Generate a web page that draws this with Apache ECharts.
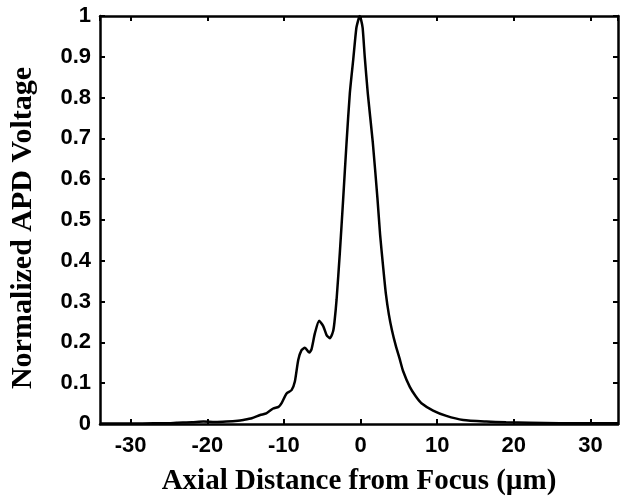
<!DOCTYPE html>
<html>
<head>
<meta charset="utf-8">
<script src="https://cdn.jsdelivr.net/npm/echarts@6/dist/echarts.min.js"></script>
<style>
html,body{margin:0;padding:0;background:#fff;}
#chart{width:620px;height:496px;}
</style>
</head>
<body>
<div id="chart"></div>
<script>
var xValues = [-34, -30, -27, -25, -24, -22, -20.5, -19, -17.5, -16, -15.3, -14.2, -13.1, -12.3, -11.4, -10.7, -10.3, -9.65, -9.0, -8.57, -8.13, -7.7, -7.26, -6.7, -6.4, -5.96, -5.4, -4.87, -4.43, -4.0, -3.57, -3.4, -3.13, -2.7, -2.27, -1.83, -1.4, -0.96, -0.55, -0.3, -0.12, 0.08, 0.28, 0.55, 0.95, 1.6, 2.2, 2.55, 2.95, 3.3, 3.7, 4.1, 4.6, 5.1, 5.55, 6.43, 7.2, 7.95, 9.47, 11.2, 13.4, 16.4, 19, 22, 26, 30, 33.6];
var yValues = [0.001, 0.001, 0.002, 0.002, 0.003, 0.004, 0.006, 0.005, 0.006, 0.008, 0.010, 0.014, 0.022, 0.026, 0.038, 0.042, 0.051, 0.075, 0.083, 0.104, 0.157, 0.181, 0.187, 0.175, 0.183, 0.222, 0.253, 0.240, 0.218, 0.210, 0.228, 0.250, 0.304, 0.420, 0.550, 0.688, 0.810, 0.892, 0.970, 0.990, 1.0, 0.990, 0.970, 0.900, 0.810, 0.690, 0.555, 0.465, 0.385, 0.320, 0.268, 0.230, 0.192, 0.160, 0.130, 0.091, 0.068, 0.051, 0.033, 0.020, 0.010, 0.006, 0.004, 0.003, 0.002, 0.002, 0.002];
var xLabel = 'Axial Distance from Focus (\u00b5m)';
var yLabel = 'Normalized APD Voltage';

var points = xValues.map(function (x, i) { return [x, yValues[i]]; });

var chart = echarts.init(document.getElementById('chart'), null, {renderer: 'canvas'});
var tickFont = {color: '#000', fontFamily: 'Liberation Sans', fontWeight: 'bold', fontSize: 22};
var lineStyle = {color: '#000', width: 2.5};
var option = {
  backgroundColor: '#fff',
  animation: false,
  grid: {left: 100, right: 2, top: 16, bottom: 72, containLabel: false, outerBoundsMode: 'none'},
  xAxis: [{
    type: 'value', min: -34, max: 33.6, splitNumber: 7,
    position: 'bottom',
    name: xLabel, nameLocation: 'middle', nameGap: 43,
    nameTextStyle: {color: '#000', fontFamily: 'Liberation Serif', fontWeight: 'bold', fontSize: 29},
    axisLine: {show: true, onZero: false, lineStyle: lineStyle},
    axisTick: {show: true, inside: true, length: 5, lineStyle: {color: '#000', width: 2}},
    axisLabel: Object.assign({margin: 11, showMinLabel: false, showMaxLabel: false}, tickFont),
    splitLine: {show: false}
  }, {
    type: 'value', min: -34, max: 33.6, splitNumber: 7,
    position: 'top',
    axisLine: {show: true, onZero: false, lineStyle: lineStyle},
    axisTick: {show: true, inside: true, length: 5, lineStyle: {color: '#000', width: 2}},
    axisLabel: {show: false},
    splitLine: {show: false}
  }],
  yAxis: [{
    type: 'value', min: 0, max: 1, interval: 0.1,
    position: 'left',
    name: yLabel, nameLocation: 'middle', nameGap: 62,
    nameTextStyle: {color: '#000', fontFamily: 'Liberation Serif', fontWeight: 'bold', fontSize: 30, padding: [0, 16, 0, 0]},
    axisLine: {show: true, onZero: false, lineStyle: lineStyle},
    axisTick: {show: true, inside: true, length: 5, lineStyle: {color: '#000', width: 2}},
    axisLabel: Object.assign({margin: 9, formatter: function (v) { return String(+v.toFixed(1)); }}, tickFont),
    splitLine: {show: false}
  }, {
    type: 'value', min: 0, max: 1, interval: 0.1,
    position: 'right',
    axisLine: {show: true, onZero: false, lineStyle: lineStyle},
    axisTick: {show: true, inside: true, length: 5, lineStyle: {color: '#000', width: 2}},
    axisLabel: {show: false},
    splitLine: {show: false}
  }],
  series: [{
    type: 'line',
    xAxisIndex: 0, yAxisIndex: 0,
    data: points,
    showSymbol: false,
    smooth: 0.2,
    lineStyle: {color: '#000', width: 2.5},
    z: 3
  }]
};
chart.setOption(option);
</script>
</body>
</html>
